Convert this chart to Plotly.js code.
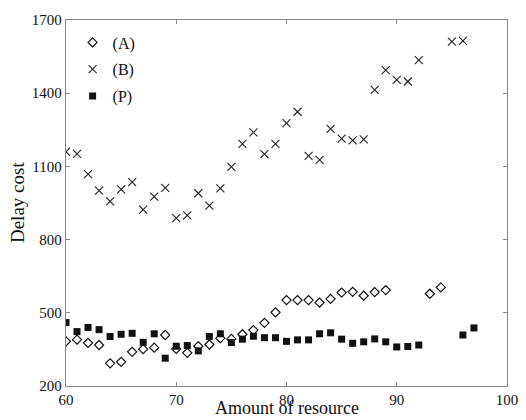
<!DOCTYPE html>
<html>
<head>
<meta charset="utf-8">
<script src="https://cdn.plot.ly/plotly-3.0.1.min.js"></script>
<style>html,body{margin:0;padding:0;background:#fff;}#chart{width:526px;height:420px;}</style>
</head>
<body>
<div id="chart"></div>
<script>
const xA = [60,61,62,63,64,65,66,67,68,69,70,71,72,73,74,75,76,77,78,79,80,81,82,83,84,85,86,87,88,89,93,94];
const yA = [383,390,377,368,293,299,340,351,357,409,352,336,363,370,396,393,412,429,459,502,552,552,552,542,557,583,586,570,585,593,578,604];
const xB = [60,61,62,63,64,65,66,67,68,69,70,71,72,73,74,75,76,77,78,79,80,81,82,83,84,85,86,87,88,89,90,91,92,95,96];
const yB = [1160,1151,1068,1001,957,1006,1036,923,976,1012,888,899,990,939,1010,1098,1192,1239,1150,1192,1277,1324,1143,1127,1254,1214,1207,1211,1414,1495,1455,1448,1536,1611,1614];
const xP = [60,61,62,63,64,65,66,67,68,69,70,71,72,73,74,75,76,77,78,79,80,81,82,83,84,85,86,87,88,89,90,91,92,96,97];
const yP = [460,423,440,431,403,412,416,379,414,314,363,366,344,403,414,378,392,404,398,398,383,389,389,414,418,392,375,381,393,381,360,362,368,409,438];
const xTicks = [60,70,80,90,100];
const yTicks = [200,500,800,1100,1400,1700];
const xTitle = 'Amount of resource';
const yTitle = 'Delay cost';

const serif = "Liberation Serif, DejaVu Serif, serif";
const traces = [
  {x: xA, y: yA, name: '(A)', legendgroup: 'a', mode: 'markers', type: 'scatter',
   marker: {symbol: 'diamond-open', size: 7, color: '#111', line: {width: 1.2, color: '#111'}}},
  {x: xB, y: yB, name: '(B)', legendgroup: 'b', mode: 'markers', type: 'scatter',
   marker: {symbol: 'x-thin-open', size: 8, color: '#222', line: {width: 1.1, color: '#222'}}},
  {x: xP, y: yP, name: '(P)', legendgroup: 'p', mode: 'markers', type: 'scatter',
   marker: {symbol: 'square', size: 7, color: '#111', line: {width: 0}}}
];
const layout = {
  width: 526, height: 420,
  margin: {l: 66, r: 19, t: 20, b: 34},
  paper_bgcolor: '#fff', plot_bgcolor: '#fff',
  font: {family: serif, size: 15, color: '#111'},
  showlegend: true,
  legend: {x: 0.015, y: 0.985, xanchor: 'left', yanchor: 'top', bgcolor: 'rgba(0,0,0,0)',
           tracegroupgap: 3,
           font: {family: serif, size: 16, color: '#111'}, itemwidth: 30},
  xaxis: {range: [60, 100], tickvals: xTicks, ticktext: xTicks.map(String),
          showgrid: false, zeroline: false, showline: true, linecolor: '#888', linewidth: 1.2,
          mirror: 'ticks', ticks: 'inside', ticklen: 4, tickcolor: '#888',
          tickfont: {family: serif, size: 15, color: '#111'}},
  yaxis: {range: [200, 1700], tickvals: yTicks, ticktext: yTicks.map(String),
          showgrid: false, zeroline: false, showline: true, linecolor: '#888', linewidth: 1.2,
          mirror: 'ticks', ticks: 'inside', ticklen: 4, tickcolor: '#888',
          tickfont: {family: serif, size: 15, color: '#111'}},
  annotations: [
    {text: xTitle, xref: 'paper', yref: 'paper', x: 0.5, y: -0.093, xanchor: 'center', yanchor: 'bottom',
     showarrow: false, font: {family: serif, size: 18, color: '#111'}},
    {text: yTitle, xref: 'paper', yref: 'paper', x: -0.111, y: 0.5, xanchor: 'center', yanchor: 'middle',
     textangle: -90, showarrow: false, font: {family: serif, size: 19, color: '#111'}}
  ]
};
Plotly.newPlot('chart', traces, layout, {displayModeBar: false, staticPlot: true});
</script>
</body>
</html>
